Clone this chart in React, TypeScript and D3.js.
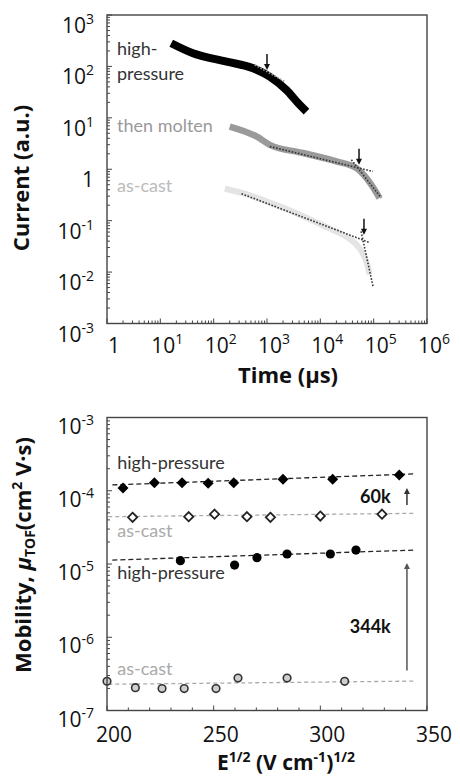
import React from "react";
import * as d3 from "d3";

// ---- top panel: transient current vs time ----
const timeExps = [0, 1, 2, 3, 4, 5, 6];
const currentExps = [-3, -2, -1, 0, 1, 2, 3];

const hpTime = [16, 41, 175, 550, 1130, 2300, 4100, 5500];
const hpCurrent = [282, 180, 124, 92, 63, 35, 17.9, 13.2];

const moltenTime = [200, 635, 1130, 4740, 20000, 47400, 73000, 104000, 129000];
const moltenCurrent = [6.78, 4.34, 2.99, 2.07, 1.42, 1.05, 0.675, 0.4, 0.276];

const castTime = [162, 384, 1130, 4110, 15000, 28600, 44100, 59600, 74000, 84100];
const castCurrent = [0.418, 0.334, 0.224, 0.131, 0.07, 0.051, 0.037, 0.025, 0.0153, 0.0089];

// dotted fits [t0, t1], [i0, i1]
const topFits = [
  { t: [591, 2155], i: [107, 50.7] },
  { t: [1130, 97000], i: [2.77, 0.906] },
  { t: [38200, 139000], i: [1.53, 0.276] },
  { t: [333, 84100], i: [0.334, 0.0374] },
  { t: [58000, 97000], i: [0.062, 0.0053] },
];

// transit-time arrows (tip positions)
const arrowTime = [1000, 53100, 65800];
const arrowCurrent = [85.5, 1.22, 0.0535];

const topLabels = [
  { text: "high-", t: 1.54, i: 167, color: "#333" },
  { text: "pressure", t: 1.54, i: 54.7, color: "#333" },
  { text: "then molten", t: 1.54, i: 5.35, color: "#999" },
  { text: "as-cast", t: 1.54, i: 0.366, color: "#bbb" },
];

// ---- bottom panel: mobility vs sqrt(E) ----
const fieldTicks = [200, 250, 300, 350];
const mobilityExps = [-7, -6, -5, -4, -3];

const hpDiamondX = [207.5, 222.2, 235.2, 247.4, 259.4, 282.5, 305.8, 337];
const hpDiamondY = [1.09e-4, 1.29e-4, 1.29e-4, 1.27e-4, 1.29e-4, 1.44e-4, 1.44e-4, 1.64e-4];

const castDiamondX = [212, 238.3, 250.4, 265.6, 276.6, 300, 328.9];
const castDiamondY = [4.34e-5, 4.42e-5, 4.78e-5, 4.42e-5, 4.34e-5, 4.52e-5, 4.78e-5];

const hpCircleX = [234.4, 259.8, 270.3, 284.4, 304.7, 316.7];
const hpCircleY = [1.11e-5, 9.66e-6, 1.22e-5, 1.37e-5, 1.37e-5, 1.55e-5];

const castCircleX = [200, 213.3, 225.8, 236.2, 251.1, 261.4, 284.4, 311.4];
const castCircleY = [2.5e-7, 2.05e-7, 1.99e-7, 1.99e-7, 1.99e-7, 2.77e-7, 2.77e-7, 2.5e-7];

const bottomFits = [
  { x: [202.5, 344.5], y: [1.2e-4, 1.7e-4], color: "#222", dash: "5,3" },
  { x: [200.6, 344.5], y: [4.42e-5, 4.92e-5], color: "#aaa", dash: "4,3" },
  { x: [202.5, 344.5], y: [1.13e-5, 1.55e-5], color: "#222", dash: "5,3" },
  { x: [200.6, 344.5], y: [2.28e-7, 2.52e-7], color: "#aaa", dash: "4,3" },
];

const bottomArrows = [
  { x: 340.6, from: 6.4e-5, to: 1.09e-4, color: "#333" },
  { x: 340.6, from: 3.53e-7, to: 1.03e-5, color: "#555" },
];

const bottomLabels = [
  { text: "high-pressure", x: 204.8, y: 1.99e-4, color: "#333", bold: false, anchor: "start" },
  { text: "as-cast", x: 204.8, y: 2.33e-5, color: "#aaa", bold: false, anchor: "start" },
  { text: "high-pressure", x: 204.8, y: 6.21e-6, color: "#333", bold: false, anchor: "start" },
  { text: "as-cast", x: 204.8, y: 3.02e-7, color: "#aaa", bold: false, anchor: "start" },
  { text: "60k", x: 325.8, y: 6.8e-5, color: "#111", bold: true, anchor: "middle" },
  { text: "344k", x: 323.4, y: 1.135e-6, color: "#111", bold: true, anchor: "middle" },
];

const tickFont = "'Open Sans', sans-serif";
const textFont = "Lato, 'Open Sans', sans-serif";

function Pow({ exp, ...rest }: any) {
  if (exp === 0) return <text {...rest}>1</text>;
  return (
    <text {...rest}>
      <tspan>10</tspan>
      <tspan dy={-9} fontSize={14}>
        {exp < 0 ? "-" + Math.abs(exp) : exp}
      </tspan>
    </text>
  );
}

function minorLog(lo: number, hi: number) {
  const out: number[] = [];
  for (let e = lo; e < hi; e++) {
    for (let k = 1; k <= 9; k++) out.push(k * Math.pow(10, e));
  }
  out.push(Math.pow(10, hi));
  return out;
}

export default function App() {
  // top scales
  const tx = d3.scaleLog().domain([1, 1e6]).range([107, 427]);
  const ty = d3.scaleLog().domain([1e-3, 1e3]).range([323.5, 15]);
  // bottom scales
  const bx = d3.scaleLinear().domain([200, 350]).range([107, 427]);
  const by = d3.scaleLog().domain([1e-7, 1e-3]).range([710.5, 417.5]);

  const topLine = d3
    .line<[number, number]>()
    .x((d) => tx(d[0]))
    .y((d) => ty(d[1]))
    .curve(d3.curveMonotoneX);

  const zip = (a: number[], b: number[]) => a.map((v, i) => [v, b[i]] as [number, number]);

  const diamond = (s: number) => `M0,${-s}L${s},0L0,${s}L${-s},0Z`;

  const tyTicks = minorLog(-3, 3);
  const txTicks = minorLog(0, 6);
  const byTicks = minorLog(-7, -3);
  const bxTicks = d3.range(200, 351, 10);

  return (
    <div style={{ position: "fixed", left: 0, top: 0 }}>
      <svg width={460} height={778} style={{ display: "block", background: "#fff" }}>
        {/* ===== TOP PANEL ===== */}
        <g>
          {/* curves */}
          <path d={topLine(zip(castTime, castCurrent)) || ""} fill="none" stroke="#e4e4e4" strokeWidth={6} />
          <path d={topLine(zip(moltenTime, moltenCurrent)) || ""} fill="none" stroke="#9a9a9a" strokeWidth={6.5} />
          <path d={topLine(zip(hpTime, hpCurrent)) || ""} fill="none" stroke="#000" strokeWidth={8} />
          {/* dotted fits */}
          {topFits.map((f, i) => (
            <line
              key={i}
              x1={tx(f.t[0])}
              y1={ty(f.i[0])}
              x2={tx(f.t[1])}
              y2={ty(f.i[1])}
              stroke={i === 0 ? "#999" : "#333"}
              strokeWidth={1.6}
              strokeDasharray="1.6,1.6"
            />
          ))}
          {/* arrows */}
          {arrowTime.map((t, i) => {
            const x = tx(t);
            const y = ty(arrowCurrent[i]);
            return (
              <g key={i}>
                <line x1={x} y1={y - 16} x2={x} y2={y - 4} stroke="#111" strokeWidth={1.5} />
                <path d={`M${x - 3},${y - 6}L${x + 3},${y - 6}L${x},${y}Z`} fill="#111" />
              </g>
            );
          })}
          {/* series labels */}
          {topLabels.map((l, i) => (
            <text key={i} x={tx(l.t)} y={ty(l.i)} fill={l.color} fontFamily={textFont} fontSize={18}>
              {l.text}
            </text>
          ))}
          {/* axes box */}
          <rect x={107} y={15} width={320} height={308.5} fill="none" stroke="#444" strokeWidth={1.4} />
          {tyTicks.map((v, i) => {
            const major = Math.abs(Math.log10(v) - Math.round(Math.log10(v))) < 1e-9;
            return (
              <line key={"ty" + i} x1={107} x2={107 + (major ? 5 : 3)} y1={ty(v)} y2={ty(v)} stroke="#444" strokeWidth={1} />
            );
          })}
          {txTicks.map((v, i) => {
            const major = Math.abs(Math.log10(v) - Math.round(Math.log10(v))) < 1e-9;
            return (
              <line key={"tx" + i} y1={323.5} y2={323.5 - (major ? 5 : 3)} x1={tx(v)} x2={tx(v)} stroke="#444" strokeWidth={1} />
            );
          })}
          {currentExps.map((e) => (
            <Pow
              key={"cy" + e}
              exp={e}
              x={94}
              y={ty(Math.pow(10, e)) + 18}
              textAnchor="end"
              fontFamily={tickFont}
              fontSize={21}
              fill="#111"
            />
          ))}
          {timeExps.map((e) => (
            <Pow
              key={"tx" + e}
              exp={e}
              x={tx(Math.pow(10, e)) + 7}
              y={353}
              textAnchor="middle"
              fontFamily={tickFont}
              fontSize={21}
              fill="#111"
            />
          ))}
          <text x={288} y={383} textAnchor="middle" fontFamily={tickFont} fontWeight="bold" fontSize={22} fill="#111">
            Time (μs)
          </text>
          <text
            transform="translate(29,178) rotate(-90)"
            textAnchor="middle"
            fontFamily={tickFont}
            fontWeight="bold"
            fontSize={22}
            fill="#111"
          >
            Current (a.u.)
          </text>
        </g>

        {/* ===== BOTTOM PANEL ===== */}
        <g>
          {bottomFits.map((f, i) => (
            <line
              key={i}
              x1={bx(f.x[0])}
              y1={by(f.y[0])}
              x2={bx(f.x[1])}
              y2={by(f.y[1])}
              stroke={f.color}
              strokeWidth={1.3}
              strokeDasharray={f.dash}
            />
          ))}
          {hpDiamondX.map((x, i) => (
            <path key={"hd" + i} d={diamond(5.5)} transform={`translate(${bx(x)},${by(hpDiamondY[i])})`} fill="#000" />
          ))}
          {castDiamondX.map((x, i) => (
            <path
              key={"cd" + i}
              d={diamond(4.6)}
              transform={`translate(${bx(x)},${by(castDiamondY[i])})`}
              fill="#fff"
              stroke="#222"
              strokeWidth={1.8}
            />
          ))}
          {hpCircleX.map((x, i) => (
            <circle key={"hc" + i} cx={bx(x)} cy={by(hpCircleY[i])} r={4.6} fill="#000" />
          ))}
          {castCircleX.map((x, i) => (
            <circle
              key={"cc" + i}
              cx={bx(x)}
              cy={by(castCircleY[i])}
              r={3.8}
              fill="#cfcfcf"
              stroke="#333"
              strokeWidth={1.6}
            />
          ))}
          {bottomArrows.map((a, i) => {
            const x = bx(a.x);
            const y1 = by(a.from);
            const y2 = by(a.to);
            return (
              <g key={"ba" + i}>
                <line x1={x} y1={y1} x2={x} y2={y2 + 4} stroke={a.color} strokeWidth={1.5} />
                <path d={`M${x - 3},${y2 + 6}L${x + 3},${y2 + 6}L${x},${y2}Z`} fill={a.color} />
              </g>
            );
          })}
          {bottomLabels.map((l, i) => (
            <text
              key={"bl" + i}
              x={bx(l.x)}
              y={by(l.y)}
              fill={l.color}
              fontFamily={textFont}
              fontWeight={l.bold ? "bold" : "normal"}
              fontSize={18}
              textAnchor={l.anchor}
            >
              {l.text}
            </text>
          ))}
          <rect x={107} y={417.5} width={320} height={293} fill="none" stroke="#444" strokeWidth={1.4} />
          {byTicks.map((v, i) => {
            const major = Math.abs(Math.log10(v) - Math.round(Math.log10(v))) < 1e-9;
            return (
              <line key={"by" + i} x1={107} x2={107 + (major ? 5 : 3)} y1={by(v)} y2={by(v)} stroke="#444" strokeWidth={1} />
            );
          })}
          {bxTicks.map((v) => (
            <line
              key={"bx" + v}
              x1={bx(v)}
              x2={bx(v)}
              y1={710.5}
              y2={710.5 - (v % 50 === 0 ? 5 : 3)}
              stroke="#444"
              strokeWidth={1}
            />
          ))}
          {mobilityExps.map((e) => (
            <Pow
              key={"my" + e}
              exp={e}
              x={94}
              y={by(Math.pow(10, e)) + 16}
              textAnchor="end"
              fontFamily={tickFont}
              fontSize={21}
              fill="#111"
            />
          ))}
          {fieldTicks.map((v) => (
            <text
              key={"fx" + v}
              x={bx(v) + 7}
              y={742}
              textAnchor="middle"
              fontFamily={tickFont}
              fontSize={21}
              fill="#111"
            >
              {v}
            </text>
          ))}
          <text x={286} y={770} textAnchor="middle" fontFamily={tickFont} fontWeight="bold" fontSize={21} fill="#111">
            <tspan>E</tspan>
            <tspan dy={-8} fontSize={14}>1/2</tspan>
            <tspan dy={8}> (V cm</tspan>
            <tspan dy={-8} fontSize={14}>-1</tspan>
            <tspan dy={8}>)</tspan>
            <tspan dy={-8} fontSize={14}>1/2</tspan>
          </text>
          <text
            transform="translate(31,555) rotate(-90)"
            textAnchor="middle"
            fontFamily={tickFont}
            fontWeight="bold"
            fontSize={22}
            fill="#111"
          >
            <tspan>Mobility, </tspan>
            <tspan fontStyle="italic">μ</tspan>
            <tspan dy={4} fontSize={14}>TOF</tspan>
            <tspan dy={-4}>(cm</tspan>
            <tspan dy={-9} fontSize={14}>2</tspan>
            <tspan dy={9}> V·s)</tspan>
          </text>
        </g>
      </svg>
    </div>
  );
}
